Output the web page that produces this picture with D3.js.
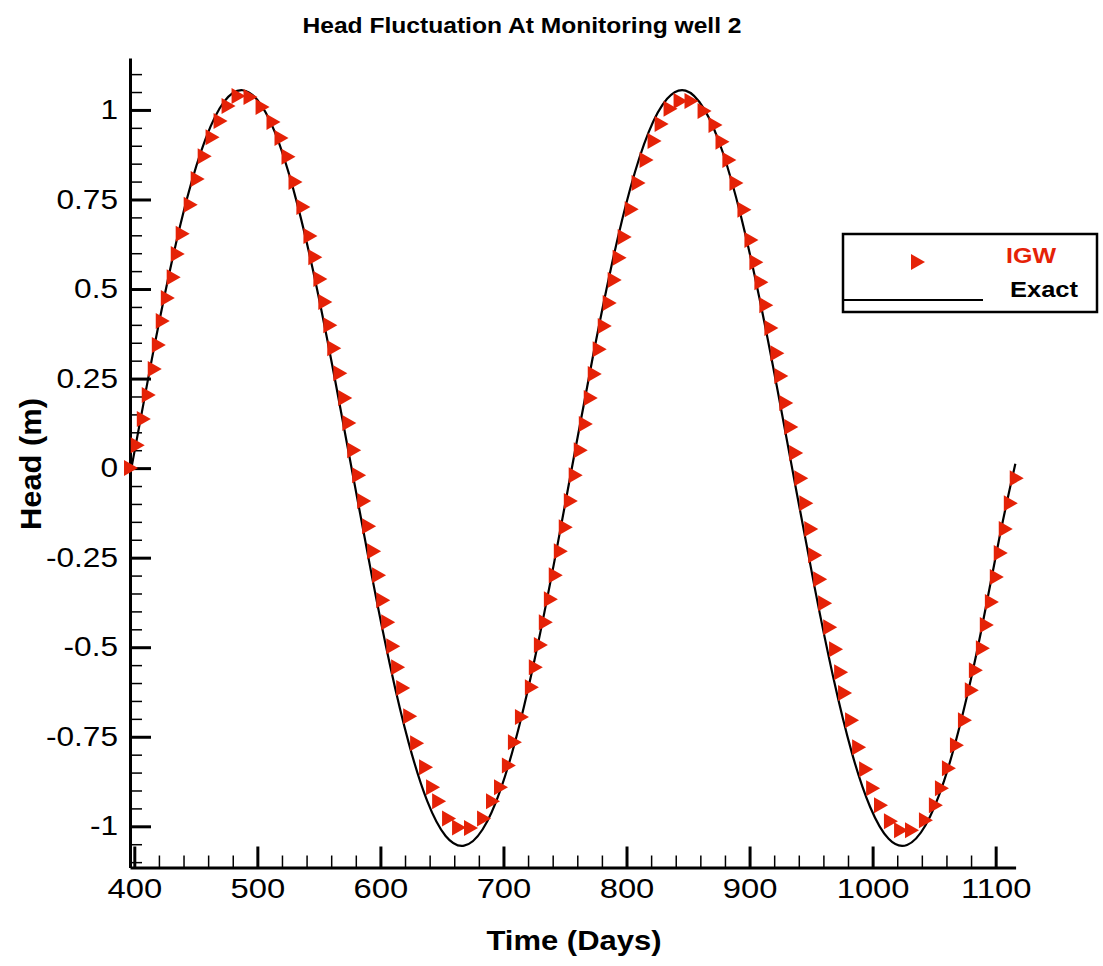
<!DOCTYPE html>
<html>
<head>
  <meta charset="utf-8">
  <title>Head Fluctuation At Monitoring well 2</title>
  <script src="https://d3js.org/d3.v7.min.js"></script>
  <style type="text/css">
    body {margin: 0; background: #fff;}
    text {font-family: 'Liberation Sans', Arial, sans-serif;}
    .bold {font-weight: bold;}
  </style>
</head>
<body>
  <div id="viz"></div>

<script type="text/javascript">

  //IGW results
  const igwDays = [
    396.5, 402.0, 406.9, 410.9, 415.8, 419.1, 422.3, 426.4, 431.2, 434.5,
    438.5, 445.0, 450.7, 456.4, 462.8, 469.3, 475.8, 483.9, 493.6, 503.4,
    512.3, 518.8, 524.5, 530.2, 536.6, 542.3, 546.3, 550.4, 554.4, 558.5,
    561.7, 566.6, 570.6, 573.9, 577.9, 581.9, 586.0, 590.0, 594.1, 598.1,
    601.5, 605.5, 609.6, 613.6, 617.7, 623.4, 629.0, 636.3, 642.0, 646.9,
    655.0, 663.1, 672.8, 683.4, 690.7, 697.2, 703.6, 708.5, 714.2, 722.3,
    725.5, 729.6, 733.6, 737.7, 741.7, 745.8, 749.8, 753.9, 757.9, 762.0,
    766.1, 770.1, 773.4, 777.4, 781.5, 785.5, 789.6, 793.6, 797.7, 803.4,
    809.0, 815.5, 822.0, 827.7, 835.0, 843.1, 852.0, 862.6, 871.5, 877.2,
    882.8, 888.5, 895.0, 900.7, 904.7, 908.8, 912.8, 916.9, 921.8, 925.0,
    929.0, 933.1, 937.1, 941.2, 945.3, 949.3, 952.5, 956.6, 960.6, 964.7,
    969.5, 973.6, 976.8, 982.5, 988.2, 993.9, 999.6, 1006.0, 1014.1, 1022.3,
    1031.2, 1042.5, 1050.6, 1055.5, 1061.2, 1067.7, 1074.2, 1079.8, 1083.1, 1088.8,
    1092.0, 1096.1, 1100.1, 1103.3, 1107.4, 1111.5, 1116.3
  ];
  const igwHead = [
    0.000, 0.064, 0.137, 0.204, 0.277, 0.344, 0.411, 0.475, 0.533, 0.598,
    0.654, 0.735, 0.807, 0.871, 0.924, 0.969, 1.011, 1.039, 1.036, 1.008,
    0.966, 0.922, 0.869, 0.799, 0.729, 0.648, 0.589, 0.528, 0.464, 0.399,
    0.335, 0.265, 0.196, 0.126, 0.050, -0.020, -0.092, -0.162, -0.232, -0.299,
    -0.369, -0.430, -0.497, -0.556, -0.614, -0.693, -0.768, -0.835, -0.891, -0.930,
    -0.978, -1.003, -1.005, -0.978, -0.930, -0.891, -0.830, -0.765, -0.695, -0.612,
    -0.556, -0.494, -0.430, -0.366, -0.299, -0.232, -0.165, -0.092, -0.020, 0.050,
    0.123, 0.196, 0.263, 0.332, 0.397, 0.461, 0.525, 0.587, 0.645, 0.723,
    0.796, 0.860, 0.913, 0.961, 1.003, 1.025, 1.025, 0.997, 0.958, 0.911,
    0.860, 0.796, 0.721, 0.637, 0.575, 0.519, 0.455, 0.391, 0.321, 0.257,
    0.182, 0.115, 0.042, -0.028, -0.098, -0.170, -0.243, -0.310, -0.377, -0.444,
    -0.506, -0.570, -0.628, -0.704, -0.779, -0.841, -0.894, -0.941, -0.986, -1.011,
    -1.011, -0.983, -0.941, -0.894, -0.838, -0.774, -0.704, -0.620, -0.564, -0.503,
    -0.438, -0.374, -0.304, -0.237, -0.170, -0.098, -0.028
  ];

  //exact solution, sampled along the black curve
  const exactDays = [
    398, 413, 428, 443, 458, 473, 488, 503, 518, 533,
    548, 563, 578, 593, 608, 623, 638, 653, 668, 683,
    698, 713, 728, 743, 758, 773, 788, 803, 818, 833,
    848, 863, 878, 893, 908, 923, 938, 953, 968, 983,
    998, 1013, 1028, 1043, 1058, 1073, 1088, 1103, 1116
  ];
  const exactHead = [
    0.007, 0.282, 0.537, 0.755, 0.920, 1.023, 1.055, 1.014, 0.904, 0.730,
    0.508, 0.249, -0.026, -0.300, -0.553, -0.767, -0.929, -1.027, -1.054, -1.009,
    -0.894, -0.717, -0.491, -0.231, 0.045, 0.317, 0.568, 0.780, 0.938, 1.031,
    1.054, 1.003, 0.884, 0.703, 0.475, 0.213, -0.063, -0.335, -0.584, -0.793,
    -0.946, -1.035, -1.052, -0.997, -0.874, -0.690, -0.458, -0.195, 0.012
  ];

  const xTicks = [400, 500, 600, 700, 800, 900, 1000, 1100];
  const xTickLabels = ["400", "500", "600", "700", "800", "900", "1000", "1100"];
  const yTicks = [-1, -0.75, -0.5, -0.25, 0, 0.25, 0.5, 0.75, 1];
  const yTickLabels = ["-1", "-0.75", "-0.5", "-0.25", "0", "0.25", "0.5", "0.75", "1"];

  const colorSet = {
    "bg": "#ffffff",
    "igw": "#e52207",
    "exact": "#000000"
  };

  const FULLW = 1103;
  const FULLH = 966;
  const STRETCH = 1.17; //text in the reference is drawn wider than Arial

  const x = d3.scaleLinear().domain([396.5, 1116.2]).range([130, 1015.6]);
  const y = d3.scaleLinear().domain([-1.115, 1.145]).range([867.5, 58]);

  const svg = d3.select("#viz")
    .append("svg")
    .attr("width", FULLW)
    .attr("height", FULLH);

  svg.append("rect")
    .attr("width", "100%")
    .attr("height", "100%")
    .attr("fill", colorSet.bg);

  function widen(sel) {
    sel.each(function () {
      const w = this.getComputedTextLength();
      d3.select(this)
        .attr("textLength", w * STRETCH)
        .attr("lengthAdjust", "spacingAndGlyphs");
    });
  }

  ////minor ticks (no labels)
  const xMinor = d3.range(400, 1101, 20).filter(v => xTicks.indexOf(v) < 0);
  const yMinor = d3.range(-22, 23).map(v => v * 0.05)
    .filter(v => v > -1.115 && v < 1.145 && yTicks.every(t => Math.abs(t - v) > 1e-6));

  svg.append("g")
    .attr("transform", "translate(0," + y.range()[0] + ")")
    .call(d3.axisBottom(x).tickValues(xMinor).tickSizeInner(-12).tickSizeOuter(0).tickFormat(""))
    .call(g => g.select(".domain").remove())
    .selectAll("line").attr("stroke-width", 1.5);

  svg.append("g")
    .attr("transform", "translate(" + x.range()[0] + ",0)")
    .call(d3.axisLeft(y).tickValues(yMinor).tickSizeInner(-12).tickSizeOuter(0).tickFormat(""))
    .call(g => g.select(".domain").remove())
    .selectAll("line").attr("stroke-width", 1.5);

  ////major ticks with labels
  const xAxis = svg.append("g")
    .attr("transform", "translate(0," + y.range()[0] + ")")
    .call(d3.axisBottom(x).tickValues(xTicks).tickSizeInner(-21).tickSizeOuter(0)
      .tickPadding(11).tickFormat((d, i) => xTickLabels[i]));
  xAxis.select(".domain").attr("stroke-width", 3);
  xAxis.selectAll("line").attr("stroke-width", 3);
  xAxis.selectAll("text")
    .attr("font-size", 28)
    .attr("fill", "#000")
    .attr("font-family", "'Liberation Sans', Arial, sans-serif")
    .call(widen);

  const yAxis = svg.append("g")
    .attr("transform", "translate(" + x.range()[0] + ",0)")
    .call(d3.axisLeft(y).tickValues(yTicks).tickSizeInner(-21).tickSizeOuter(0)
      .tickPadding(12).tickFormat((d, i) => yTickLabels[i]));
  yAxis.select(".domain").attr("stroke-width", 3);
  yAxis.selectAll("line").attr("stroke-width", 3);
  yAxis.selectAll("text")
    .attr("font-size", 27)
    .attr("fill", "#000")
    .attr("font-family", "'Liberation Sans', Arial, sans-serif")
    .call(widen);

  ////exact curve
  const line = d3.line()
    .x(d => x(d[0]))
    .y(d => y(d[1]))
    .curve(d3.curveNatural);

  svg.append("path")
    .datum(d3.zip(exactDays, exactHead))
    .attr("d", line)
    .attr("fill", "none")
    .attr("stroke", colorSet.exact)
    .attr("stroke-width", 2.2);

  ////IGW markers, right pointing triangles
  const tri = "M-6,-8L8,0L-6,8Z";

  svg.append("g")
    .selectAll("path")
    .data(d3.zip(igwDays, igwHead))
    .join("path")
    .attr("d", tri)
    .attr("fill", colorSet.igw)
    .attr("transform", d => "translate(" + x(d[0]) + "," + y(d[1]) + ")");

  ////titles
  svg.append("text")
    .text("Head Fluctuation At Monitoring well 2")
    .classed("bold", true)
    .attr("x", 522)
    .attr("y", 33)
    .attr("text-anchor", "middle")
    .attr("font-size", 22)
    .attr("textLength", 439)
    .attr("lengthAdjust", "spacingAndGlyphs");

  svg.append("text")
    .text("Time (Days)")
    .classed("bold", true)
    .attr("x", 574)
    .attr("y", 950)
    .attr("text-anchor", "middle")
    .attr("font-size", 27)
    .attr("textLength", 175)
    .attr("lengthAdjust", "spacingAndGlyphs");

  svg.append("text")
    .text("Head (m)")
    .classed("bold", true)
    .attr("text-anchor", "middle")
    .attr("font-size", 30)
    .attr("transform", "translate(41,464) rotate(-90)")
    .attr("textLength", 132)
    .attr("lengthAdjust", "spacingAndGlyphs");

  ////legend
  const legend = svg.append("g");

  legend.append("rect")
    .attr("x", 843)
    .attr("y", 234)
    .attr("width", 254)
    .attr("height", 78)
    .attr("fill", "#fff")
    .attr("stroke", "#000")
    .attr("stroke-width", 2.5);

  legend.append("path")
    .attr("d", tri)
    .attr("fill", colorSet.igw)
    .attr("transform", "translate(917,262)");

  legend.append("line")
    .attr("x1", 843)
    .attr("x2", 983)
    .attr("y1", 300)
    .attr("y2", 300)
    .attr("stroke", colorSet.exact)
    .attr("stroke-width", 2.2);

  legend.append("text")
    .text("IGW")
    .classed("bold", true)
    .attr("x", 1006)
    .attr("y", 263)
    .attr("font-size", 22)
    .attr("fill", colorSet.igw)
    .attr("textLength", 50)
    .attr("lengthAdjust", "spacingAndGlyphs");

  legend.append("text")
    .text("Exact")
    .classed("bold", true)
    .attr("x", 1010)
    .attr("y", 297)
    .attr("font-size", 22)
    .attr("fill", "#000")
    .attr("textLength", 68)
    .attr("lengthAdjust", "spacingAndGlyphs");

</script>
</body>
</html>
